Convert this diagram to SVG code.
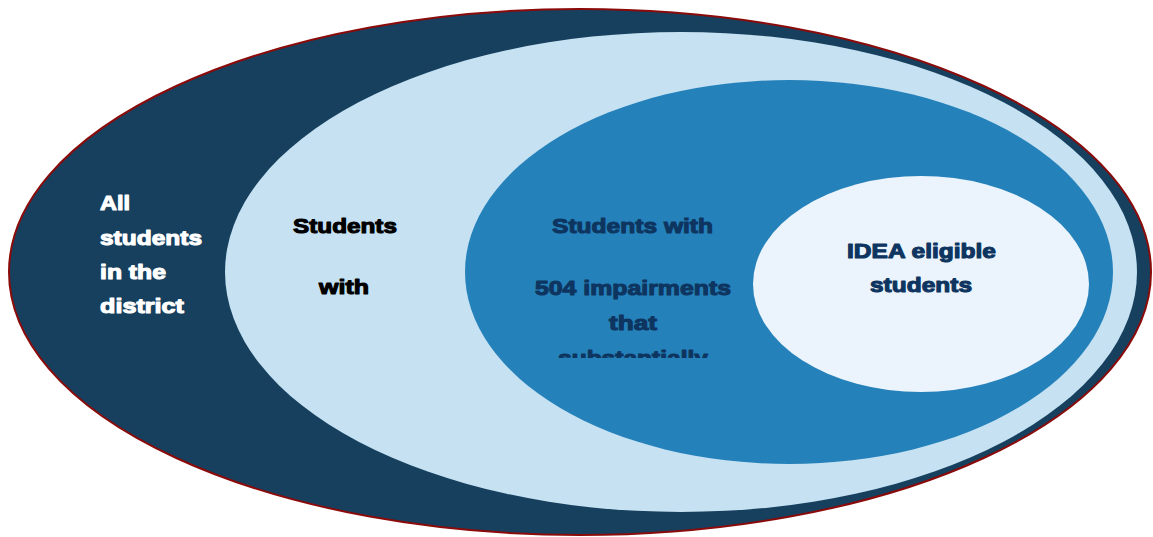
<svg xmlns="http://www.w3.org/2000/svg" width="1153" height="537" viewBox="0 0 1153 537">
<style>
.t{font-family:"Liberation Sans",Arial,sans-serif;font-weight:bold;font-size:21px;stroke-width:1.1px;stroke-linejoin:round;}
.w{fill:#ffffff;stroke:#ffffff;}
.k{fill:#000000;stroke:#000000;}
.n{fill:#0E3560;stroke:#0E3560;}
</style>
<defs>
<clipPath id="clipMid"><rect x="465" y="80" width="648" height="278"/></clipPath>
</defs>
<rect width="1153" height="537" fill="#ffffff"/>
<g id="all-students">
<ellipse cx="580" cy="272" rx="571" ry="263" fill="#16405E" stroke="#8B0A0A" stroke-width="2"/>
<text class="t w" x="100" y="210" textLength="30" lengthAdjust="spacingAndGlyphs">All</text>
<text class="t w" x="100" y="245" textLength="102" lengthAdjust="spacingAndGlyphs">students</text>
<text class="t w" x="100" y="279" textLength="66" lengthAdjust="spacingAndGlyphs">in the</text>
<text class="t w" x="100" y="313" textLength="84" lengthAdjust="spacingAndGlyphs">district</text>
</g>
<g id="students-with">
<ellipse cx="681" cy="272" rx="456" ry="240" fill="#C5E1F2"/>
<text class="t k" x="293" y="233" textLength="104" lengthAdjust="spacingAndGlyphs">Students</text>
<text class="t k" x="319" y="294" textLength="50" lengthAdjust="spacingAndGlyphs">with</text>
</g>
<g id="students-504">
<ellipse cx="789" cy="272" rx="324" ry="192" fill="#2581BA"/>
<g clip-path="url(#clipMid)">
<text class="t n" x="552" y="233" textLength="161" lengthAdjust="spacingAndGlyphs">Students with</text>
<text class="t n" x="535" y="295" textLength="196" lengthAdjust="spacingAndGlyphs">504 impairments</text>
<text class="t n" x="609" y="330" textLength="48" lengthAdjust="spacingAndGlyphs">that</text>
<text class="t n" x="558" y="365" textLength="150" lengthAdjust="spacingAndGlyphs">substantially</text>
</g>
</g>
<g id="idea-eligible">
<ellipse cx="921" cy="284" rx="168" ry="108" fill="#EBF4FC"/>
<text class="t n" x="847" y="258" textLength="149" lengthAdjust="spacingAndGlyphs">IDEA eligible</text>
<text class="t n" x="870" y="292" textLength="102" lengthAdjust="spacingAndGlyphs">students</text>
</g>
<g id="connectors"/>
</svg>
